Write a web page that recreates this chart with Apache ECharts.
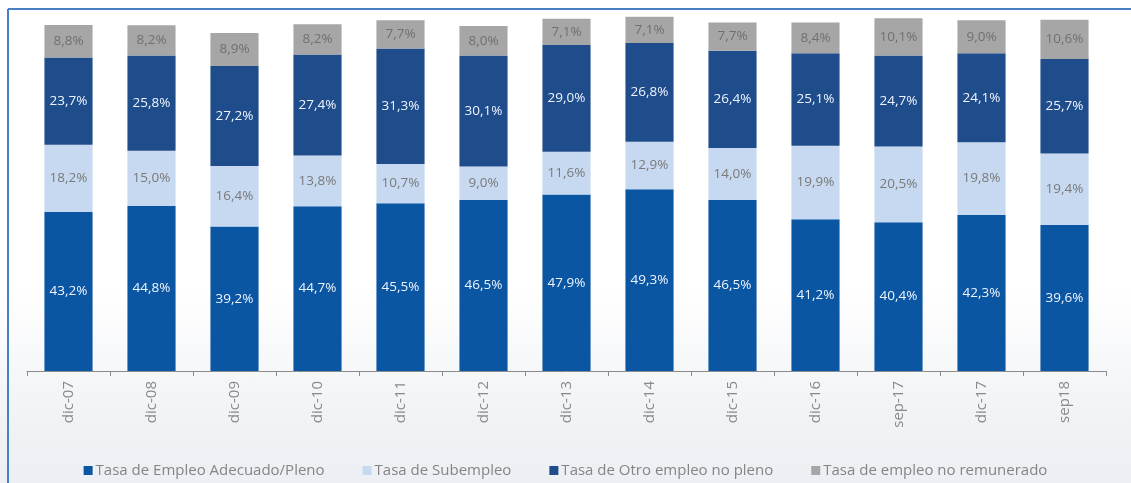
<!DOCTYPE html>
<html>
<head>
<meta charset="utf-8">
<script src="https://cdn.jsdelivr.net/npm/echarts@6/dist/echarts.min.js"></script>
<style>
html,body{margin:0;padding:0;}
body{width:1131px;height:483px;overflow:hidden;background:linear-gradient(180deg,#ffffff 0%,#ffffff 60%,#f1f3f6 85%,#eceff3 100%);}
#c{width:1131px;height:483px;}
</style>
</head>
<body>
<div id="c"></div>
<script>
const categories = ['dic-07','dic-08','dic-09','dic-10','dic-11','dic-12','dic-13','dic-14','dic-15','dic-16','sep-17','dic-17','sep18'];
const seriesNames = ['Tasa de Empleo Adecuado/Pleno','Tasa de Subempleo','Tasa de Otro empleo no pleno','Tasa de empleo no remunerado'];
const adecuado = [43.2,44.8,39.2,44.7,45.5,46.5,47.9,49.3,46.5,41.2,40.4,42.3,39.6];
const subempleo = [18.2,15.0,16.4,13.8,10.7,9.0,11.6,12.9,14.0,19.9,20.5,19.8,19.4];
const otro = [23.7,25.8,27.2,27.4,31.3,30.1,29.0,26.8,26.4,25.1,24.7,24.1,25.7];
const noRemunerado = [8.8,8.2,8.9,8.2,7.7,8.0,7.1,7.1,7.7,8.4,10.1,9.0,10.6];

const colors = ['#0a56a3','#c6d9f0','#1f4d8c','#a6a6a6'];
const labelColors = ['#eef4ff','#7a7a7a','#eef4ff','#707070'];
const fontFam = '"Open Sans", Lato, sans-serif';
const fmt = p => p.value.toFixed(1).replace('.', ',') + '%';

const chart = echarts.init(document.getElementById('c'), null, {renderer:'canvas'});
const dataSets = [adecuado, subempleo, otro, noRemunerado];
chart.setOption({
  animation:false,
  color: colors,
  grid:{left:27,right:25,top:2.5,bottom:112},
  xAxis:{
    type:'category',
    data:categories,
    axisLine:{lineStyle:{color:'#8c8c8c',width:1}},
    axisTick:{show:true,length:5,lineStyle:{color:'#8c8c8c'}},
    axisLabel:{rotate:90,color:'#8a8a8a',fontSize:15,fontFamily:fontFam,margin:10}
  },
  yAxis:{
    type:'value',min:0,max:100,show:false,splitLine:{show:false}
  },
  legend:{
    bottom:0,left:'center',
    itemWidth:9,itemHeight:9,itemGap:38,
    icon:'rect',
    textStyle:{color:'#858585',fontSize:15,fontFamily:fontFam,padding:[0,0,0,-2]},
    data:seriesNames
  },
  graphic:[
    {type:'line',shape:{x1:8,y1:9,x2:1131,y2:9},style:{stroke:'#4a7fc6',lineWidth:2}},
    {type:'line',shape:{x1:8,y1:9,x2:8,y2:483},style:{stroke:'#4a7fc6',lineWidth:2}}
  ],
  series: seriesNames.map((name,i)=>({
    name:name,
    type:'bar',
    stack:'total',
    barWidth:'58%',
    data:dataSets[i],
    itemStyle:{color:colors[i]},
    label:{show:true,position:'inside',formatter:fmt,color:labelColors[i],fontSize:13.5,fontFamily:fontFam}
  }))
});
</script>
</body>
</html>
